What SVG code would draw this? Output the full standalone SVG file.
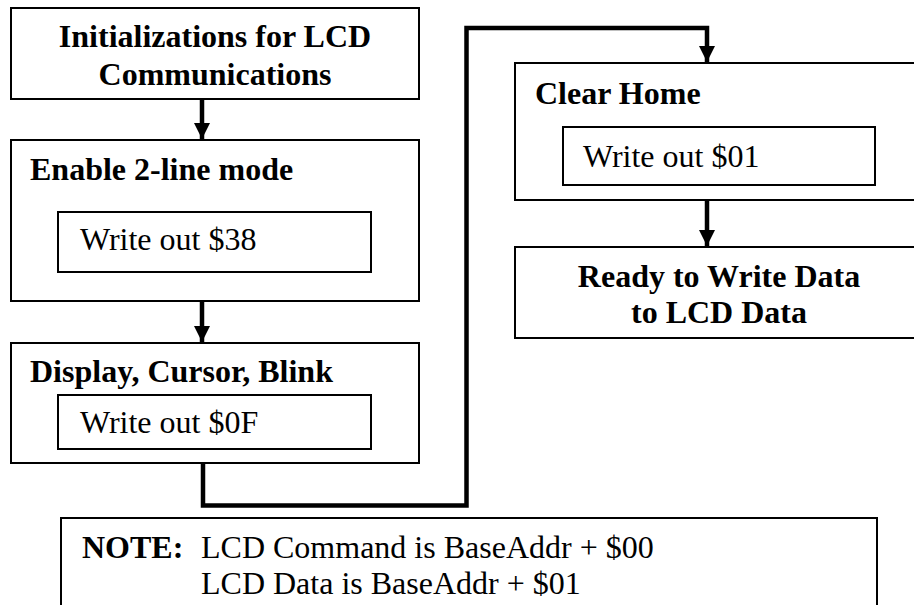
<svg xmlns="http://www.w3.org/2000/svg" width="914" height="605" viewBox="0 0 914 605">
<style>
.box{fill:#fff;stroke:#000;stroke-width:2}
.in{fill:#fff;stroke:#000;stroke-width:2}
.b{font-family:"Liberation Serif","Times New Roman",serif;font-weight:bold;font-size:32px;fill:#000}
.r{font-family:"Liberation Serif","Times New Roman",serif;font-size:32px;fill:#000}
.c{text-anchor:middle}
.ln{fill:none;stroke:#000;stroke-width:4.5;stroke-linejoin:miter}
</style>
<defs>
<marker id="ah" markerUnits="userSpaceOnUse" markerWidth="16" markerHeight="16" refX="16" refY="8" orient="auto">
<path d="M0,0 L16,8 L0,16 Z" fill="#000"/>
</marker>
</defs>
<rect width="914" height="605" fill="#fff"/>
<g id="n1">
<rect class="box" x="11" y="8" width="408" height="91"/>
<text class="b c" x="215" y="47">Initializations for LCD</text>
<text class="b c" x="215" y="85">Communications</text>
</g>
<g id="n2">
<rect class="box" x="11" y="140" width="408" height="161"/>
<text class="b" x="30" y="180">Enable 2-line mode</text>
<rect class="in" x="58" y="212" width="313" height="60"/>
<text class="r" x="80" y="250">Write out $38</text>
</g>
<g id="n3">
<rect class="box" x="11" y="343" width="408" height="120"/>
<text class="b" x="30" y="382">Display, Cursor, Blink</text>
<rect class="in" x="58" y="395" width="313" height="54"/>
<text class="r" x="80" y="433">Write out $0F</text>
</g>
<g id="n4">
<rect class="box" x="515" y="63" width="402" height="137"/>
<text class="b" x="535" y="104">Clear Home</text>
<rect class="in" x="563" y="127" width="312" height="58"/>
<text class="r" x="583" y="167">Write out $01</text>
</g>
<g id="n5">
<rect class="box" x="515" y="247" width="402" height="91"/>
<text class="b c" x="719" y="287">Ready to Write Data</text>
<text class="b c" x="719" y="323">to LCD Data</text>
</g>
<g id="note">
<rect class="box" x="61" y="518" width="816" height="100"/>
<text class="b" x="82" y="558">NOTE:</text>
<text class="r" x="201" y="558">LCD Command is BaseAddr + $00</text>
<text class="r" x="201" y="594">LCD Data is BaseAddr + $01</text>
</g>
<g id="connectors">
<line class="ln" x1="202" y1="99" x2="202" y2="139" marker-end="url(#ah)"/>
<line class="ln" x1="202" y1="301" x2="202" y2="342" marker-end="url(#ah)"/>
<path class="ln" d="M203,463 V505.5 H466.5 V28 H707 V62" marker-end="url(#ah)"/>
<line class="ln" x1="707" y1="200" x2="707" y2="246" marker-end="url(#ah)"/>
</g>
</svg>
